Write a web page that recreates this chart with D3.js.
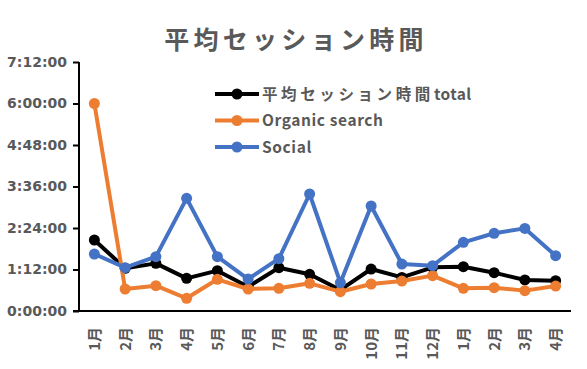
<!DOCTYPE html>
<html>
<head>
<meta charset="utf-8">
<script src="https://cdn.jsdelivr.net/npm/d3@7"></script>
<style>
  body { margin: 0; background: #fff; }
  text { font-family: "Noto Sans CJK JP", "Noto Sans", sans-serif; fill: #595959; font-weight: bold; }
</style>
</head>
<body>
<div id="chart"></div>
<script>
// category labels (two years, Jan..Dec then Jan..Apr)
const months = ['1月', '2月', '3月', '4月', '5月', '6月', '7月', '8月', '9月', '10月', '11月', '12月', '1月', '2月', '3月', '4月'];
// average session duration, seconds
const total = [7390, 4450, 4960, 3400, 4200, 2530, 4510, 3820, 2190, 4370, 3500, 4550, 4610, 3990, 3230, 3160];
const organic = [21600, 2290, 2640, 1320, 3300, 2290, 2360, 2880, 2010, 2810, 3120, 3680, 2360, 2430, 2120, 2600];
const social = [5930, 4510, 5660, 11730, 5660, 3330, 5450, 12180, 2950, 10930, 4890, 4720, 7150, 8090, 8600, 5760];
const yTicks = [0, 4320, 8640, 12960, 17280, 21600, 25920];

const series = [
  { name: '平均セッション時間', suffix: 'total', values: total, color: '#000000' },
  { name: 'Organic search', suffix: '', values: organic, color: '#ED7D31' },
  { name: 'Social', suffix: '', values: social, color: '#4472C4' }
];

const width = 587, height = 369;
const svg = d3.select('#chart').append('svg')
  .attr('width', width)
  .attr('height', height);

const x = d3.scaleBand()
  .domain(d3.range(months.length))
  .range([79, 571]);

const y = d3.scaleLinear()
  .domain([0, 25920])
  .range([311, 62]);

const fmt = s => {
  const h = Math.floor(s / 3600), m = Math.floor((s % 3600) / 60), sec = s % 60;
  return `${h}:${String(m).padStart(2, '0')}:${String(sec).padStart(2, '0')}`;
};

// title
svg.append('text')
  .attr('x', 296)
  .attr('y', 49)
  .attr('text-anchor', 'middle')
  .style('font-size', '25px')
  .style('letter-spacing', '4.3px')
  .text('平均セッション時間');

// y axis
const yAxis = svg.append('g')
  .attr('transform', 'translate(79,0)')
  .call(d3.axisLeft(y).tickValues(yTicks).tickFormat(fmt).tickSize(6).tickPadding(6));
yAxis.select('.domain').attr('stroke', '#000').attr('stroke-width', 2).attr('d', 'M0,62V312');
yAxis.selectAll('.tick line').attr('stroke', '#000').attr('stroke-width', 2);
yAxis.selectAll('.tick text')
  .style('font-size', '14px')
  .style('font-family', '"DejaVu Sans", sans-serif')
  .attr('fill', '#595959');

// x axis line
svg.append('line')
  .attr('x1', 73).attr('x2', 571)
  .attr('y1', y(0)).attr('y2', y(0))
  .attr('stroke', '#000').attr('stroke-width', 2);

// x labels, rotated
svg.append('g').selectAll('text')
  .data(months)
  .join('text')
  .attr('transform', (d, i) => `translate(${x(i) + x.bandwidth() / 2 + 5.5},327) rotate(-90)`)
  .attr('text-anchor', 'end')
  .style('font-size', '15px')
  .text(d => d);

// lines and markers
const line = d3.line()
  .x((d, i) => x(i) + x.bandwidth() / 2)
  .y(d => y(d));

series.forEach(s => {
  const g = svg.append('g');
  g.append('path')
    .attr('d', line(s.values))
    .attr('fill', 'none')
    .attr('stroke', s.color)
    .attr('stroke-width', 4)
    .attr('stroke-linejoin', 'round');
  g.selectAll('circle')
    .data(s.values)
    .join('circle')
    .attr('cx', (d, i) => x(i) + x.bandwidth() / 2)
    .attr('cy', d => y(d))
    .attr('r', 5.5)
    .attr('fill', s.color);
});

// legend
const legend = svg.append('g').selectAll('g')
  .data(series)
  .join('g')
  .attr('transform', (d, i) => `translate(215,${94 + i * 26.5})`);
legend.append('line')
  .attr('x1', 0).attr('x2', 44)
  .attr('stroke', d => d.color)
  .attr('stroke-width', 4);
legend.append('circle')
  .attr('cx', 22).attr('r', 5.5)
  .attr('fill', d => d.color);
const lt = legend.append('text')
  .attr('x', 47)
  .attr('y', 5.5)
  .style('font-size', '15.5px');
lt.append('tspan')
  .style('letter-spacing', d => d.suffix ? '3.6px' : '0.6px')
  .text(d => d.name);
lt.append('tspan')
  .style('letter-spacing', '0.4px')
  .text(d => d.suffix);
</script>
</body>
</html>
